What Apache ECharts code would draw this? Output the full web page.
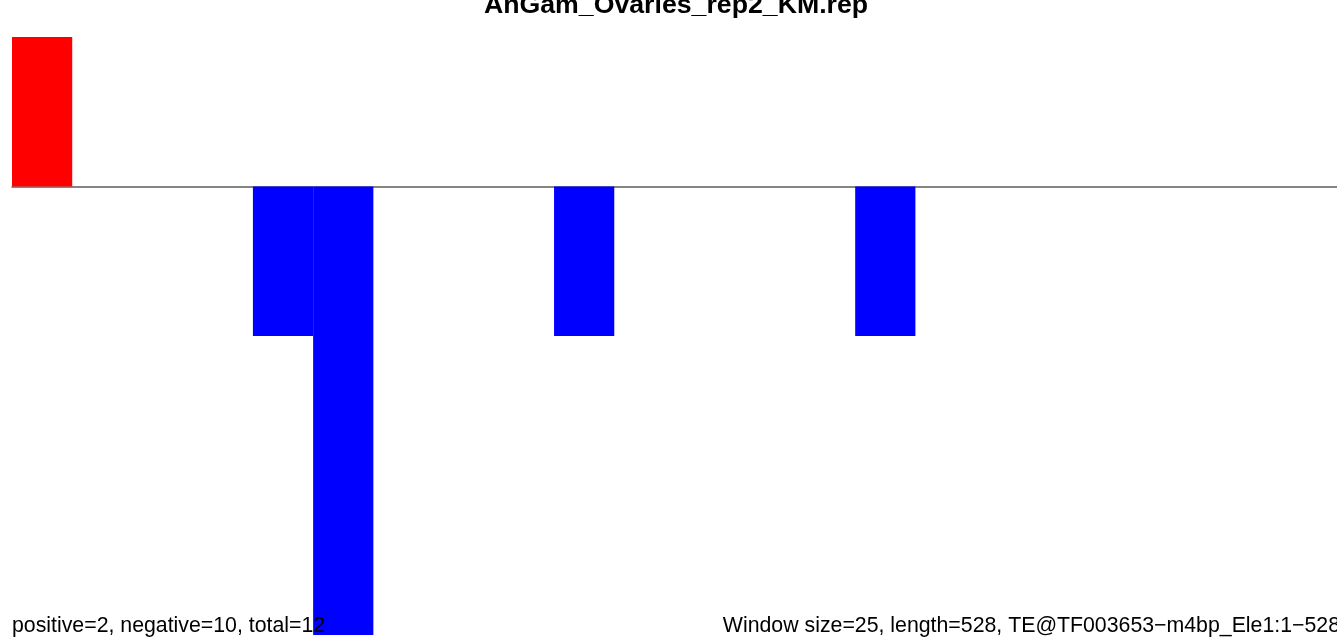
<!DOCTYPE html>
<html>
<head>
<meta charset="utf-8">
<script src="https://cdn.jsdelivr.net/npm/echarts@6/dist/echarts.min.js"></script>
<style>
html,body{margin:0;padding:0;background:#fff;}
#chart{width:1337px;height:641px;}
</style>
</head>
<body>
<div id="chart"></div>
<script>
// Window starts (window size 25, length 528)
const windowStarts = [0,25,50,75,100,125,150,175,200,225,250,275,300,325,350,375,400,425,450,475,500,525];
// Counts per window (positive = red, negative = blue)
const counts = [2,0,0,0,-2,-6,0,0,0,-2,0,0,0,0,-2,0,0,0,0,0,0,0];
const titleText = 'AnGam_Ovaries_rep2_KM.rep';
const leftNote = 'positive=2, negative=10, total=12';
const rightNote = 'Window size=25, length=528, TE@TF003653\u2212m4bp_Ele1:1\u2212528';
const yMin = -6, yMax = 2;

const chart = echarts.init(document.getElementById('chart'), null, {renderer:'canvas'});
const gridLeft = 12, gridTop = 37, gridWidth = 1328, gridHeight = 598;
chart.setOption({
  animation: false,
  backgroundColor: '#fff',
  grid: {left: gridLeft, top: gridTop, width: gridWidth, height: gridHeight, containLabel: false},
  xAxis: {
    type: 'category',
    data: windowStarts.map(String),
    axisLine: {show: true, onZero: true, lineStyle: {color: '#5e5e5e', width: 1.5}},
    axisTick: {show: false},
    axisLabel: {show: false},
    splitLine: {show: false},
    z: 1
  },
  yAxis: {
    type: 'value', min: yMin, max: yMax,
    show: false, splitLine: {show: false}
  },
  series: [{
    type: 'bar',
    data: counts.map(v => ({value: v, itemStyle: {color: v > 0 ? '#ff0000' : '#0000ff'}})),
    barWidth: '100%',
    barGap: '0%',
    z: 2
  }],
  graphic: [
    {type: 'text', x: 676, y: 5.5, z: 10,
     style: {text: titleText, textAlign: 'center', textVerticalAlign: 'middle',
             font: 'bold 26.7px "Liberation Sans", Arial, sans-serif', fill: '#000'}},
    {type: 'text', x: 12, y: 626.3, z: 10,
     style: {text: leftNote, textAlign: 'left', textVerticalAlign: 'middle',
             font: '21.3px "Liberation Sans", Arial, sans-serif', fill: '#000'}},
    {type: 'text', x: 1340, y: 626.3, z: 10,
     style: {text: rightNote, textAlign: 'right', textVerticalAlign: 'middle',
             font: '21.3px "Liberation Sans", Arial, sans-serif', fill: '#000'}}
  ]
});
</script>
</body>
</html>
